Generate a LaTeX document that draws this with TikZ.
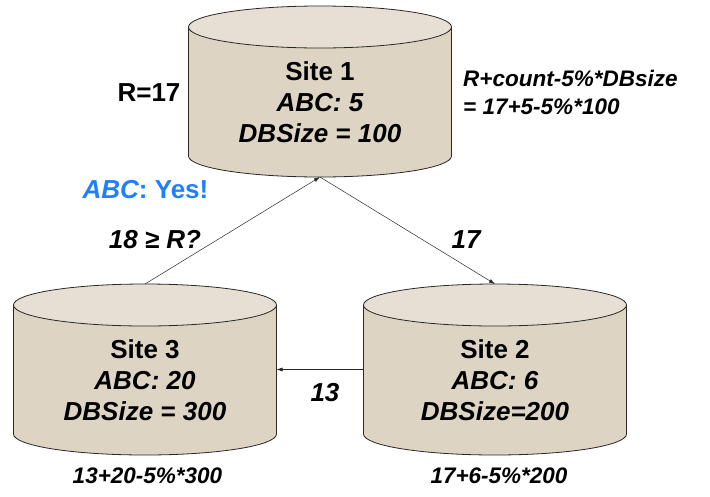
\documentclass[tikz,border=0pt]{standalone}
\usepackage{fontspec}
\setmainfont{Liberation Sans}
\usetikzlibrary{arrows.meta, calc}

\definecolor{dbbody}{RGB}{222,212,196}
\definecolor{dbtop}{RGB}{231,223,211}
\definecolor{dbline}{RGB}{40,40,40}
\definecolor{yesblue}{RGB}{30,128,255}

\begin{document}
\begin{tikzpicture}[
  x=1pt, y=-1pt,
  font=\fontsize{26}{31}\selectfont\bfseries,
  site/.style={minimum width=263pt, minimum height=171pt, inner sep=0pt, outer sep=0pt},
  cylbody/.style={draw=dbline, fill=dbbody, line width=0.8pt},
  cylend/.style={draw=dbline, fill=dbtop, line width=0.8pt},
  sitetext/.style={align=center, inner sep=0pt},
  note/.style={inner sep=0pt, font=\fontsize{22.5}{28}\selectfont\bfseries\itshape},
  msg/.style={inner sep=0pt, font=\fontsize{26}{31}\selectfont\bfseries\itshape},
  line/.style={-{Latex[length=6pt, width=4pt]}, line width=0.5pt, draw=dbline}
]
\useasboundingbox (0,0) rectangle (710,496);

% Sites (outline boxes for the cylinders)
\node[site] (s1) at (320,91.5) {};
\node[site] (s3) at (145,369.5) {};
\node[site] (s2) at (495,369.5) {};

% Cylinders
\foreach \n in {s1,s2,s3} {
  \draw[cylbody] ($(\n.north west)+(0,21)$) -- ($(\n.south west)+(0,-21)$)
    arc[start angle=180, end angle=0, x radius=131.5, y radius=21]
    -- ($(\n.north east)+(0,21)$);
  \draw[cylend] ($(\n.north)+(0,21)$) ellipse[x radius=131.5, y radius=21];
}

\node[sitetext] (s1txt) at (320,102.5) {Site 1\\\itshape ABC: 5\\\itshape DBSize = 100};
\node[sitetext] (s3txt) at (145,380.5) {Site 3\\\itshape ABC: 20\\\itshape DBSize = 300};
\node[sitetext] (s2txt) at (495,380.5) {Site 2\\\itshape ABC: 6\\\itshape DBSize=200};

% Annotations
\node[inner sep=0pt] (radius) at (149,93) {R=17};
\node[note, anchor=west, align=left] (calc1) at (463,92) {R+count-5\%*DBsize\\= 17+5-5\%*100};
\node[inner sep=0pt, text=yesblue] (yes) at (145.5,190) {\itshape ABC\upshape: Yes!};
\node[msg] (test) at (155,240) {18 ≥ R?};
\node[msg] (m12) at (466,240) {17};
\node[msg] (m23) at (325,393) {13};
\node[note] (calc3) at (147.5,476) {13+20-5\%*300};
\node[note] (calc2) at (499,476) {17+6-5\%*200};

% Messages
\draw[line] (s3.north) -- (s1.south);
\draw[line] (s1.south) -- (s2.north);
\draw[line] (s2.west) -- (s3.east);

\end{tikzpicture}
\end{document}
